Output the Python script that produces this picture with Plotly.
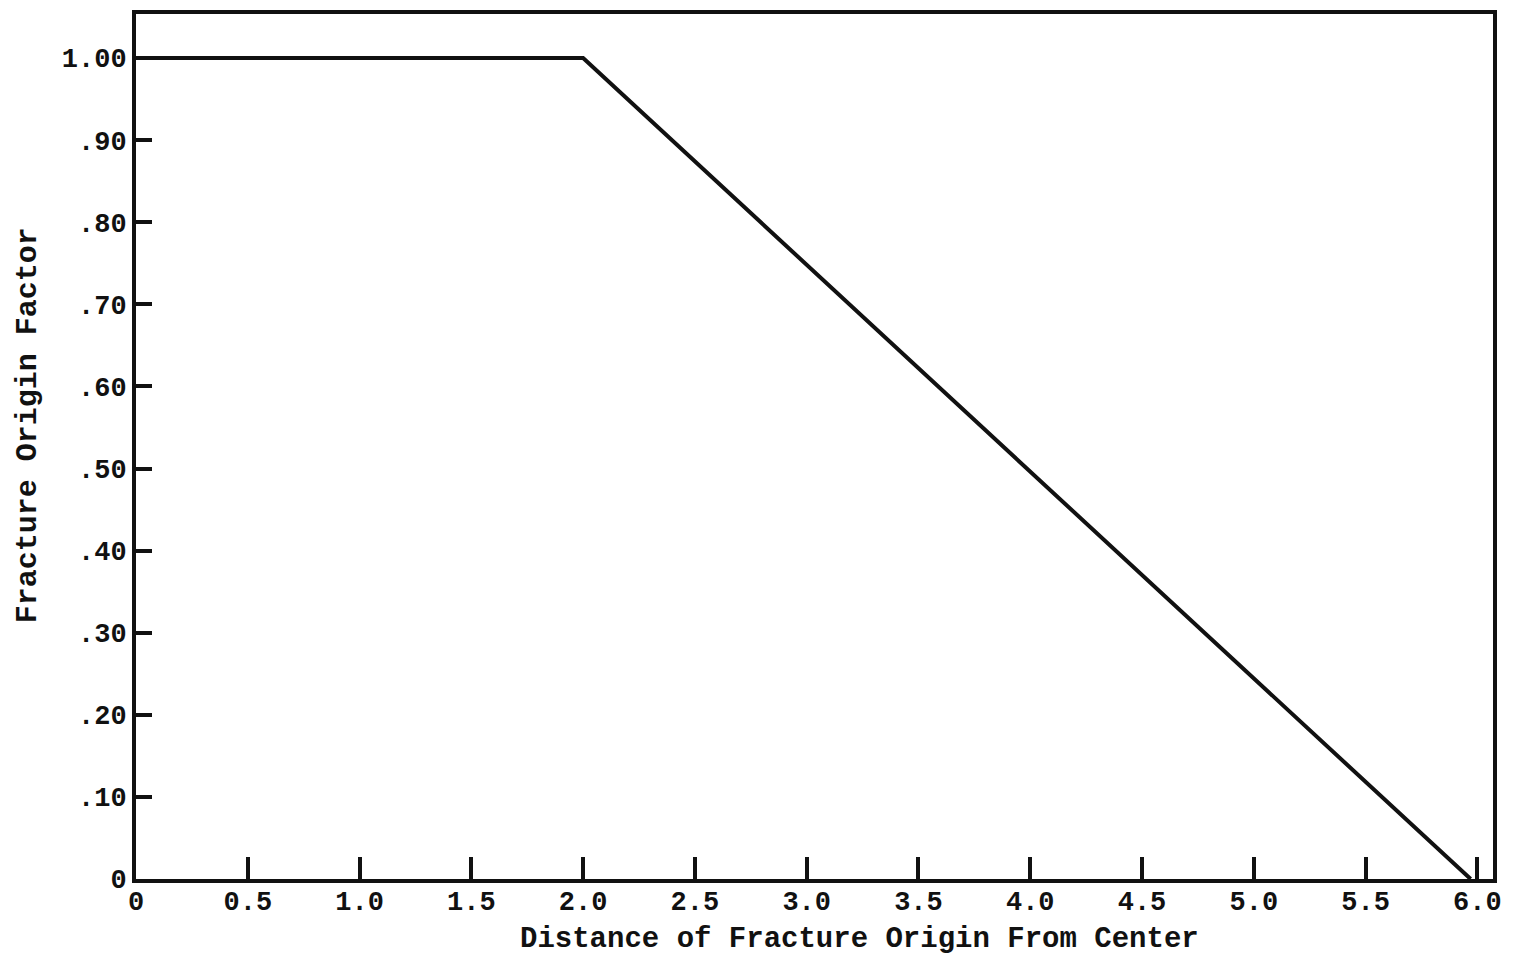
import plotly.graph_objects as go

# Data
distance = [0.0, 2.0, 5.97]
factor = [1.0, 1.0, 0.0]

x_tickvals = [0, 0.5, 1.0, 1.5, 2.0, 2.5, 3.0, 3.5, 4.0, 4.5, 5.0, 5.5, 6.0]
x_ticktext = ["0", "0.5", "1.0", "1.5", "2.0", "2.5", "3.0", "3.5", "4.0", "4.5", "5.0", "5.5", "6.0"]
y_tickvals = [0, 0.1, 0.2, 0.3, 0.4, 0.5, 0.6, 0.7, 0.8, 0.9, 1.0]
y_ticktext = ["0", ".10", ".20", ".30", ".40", ".50", ".60", ".70", ".80", ".90", "1.00"]
x_title = "Distance of Fracture Origin From Center"
y_title = "Fracture Origin Factor"

FONT = "Liberation Mono"
INK = "#111111"

fig = go.Figure()
fig.add_trace(go.Scatter(
    x=distance, y=factor, mode="lines",
    line=dict(color=INK, width=4),
    showlegend=False, hoverinfo="skip",
))

fig.update_layout(
    width=1518, height=952,
    paper_bgcolor="white", plot_bgcolor="white",
    margin=dict(l=128, r=33, t=6, b=81),
    font=dict(family=FONT, color=INK, size=28),
    xaxis=dict(
        range=[0, 6.07], showgrid=False, zeroline=False,
        showline=True, linecolor=INK, linewidth=4, mirror=True,
        tickmode="array", tickvals=x_tickvals, ticktext=x_ticktext,
        ticks="inside", ticklen=22, tickwidth=4, tickcolor=INK,
        tickfont=dict(family=FONT, size=27, color=INK, weight="bold"),
        ticklabelstandoff=-5,
        automargin=False,
    ),
    yaxis=dict(
        range=[0, 1.0536], showgrid=False, zeroline=False,
        showline=True, linecolor=INK, linewidth=4, mirror=True,
        tickmode="array", tickvals=y_tickvals, ticktext=y_ticktext,
        ticks="inside", ticklen=16, tickwidth=4, tickcolor=INK,
        tickfont=dict(family=FONT, size=27, color=INK, weight="bold"),
        automargin=False,
    ),
    annotations=[
        dict(text=x_title, xref="paper", yref="paper", x=0.5335, y=-0.0705,
             xanchor="center", yanchor="middle", showarrow=False,
             font=dict(family=FONT, size=29, color=INK, weight="bold")),
        dict(text=y_title, xref="paper", yref="paper", x=-0.080, y=0.525,
             xanchor="center", yanchor="middle", showarrow=False, textangle=-90,
             font=dict(family=FONT, size=30, color=INK, weight="bold")),
    ],
)

fig.write_html("out.html")
